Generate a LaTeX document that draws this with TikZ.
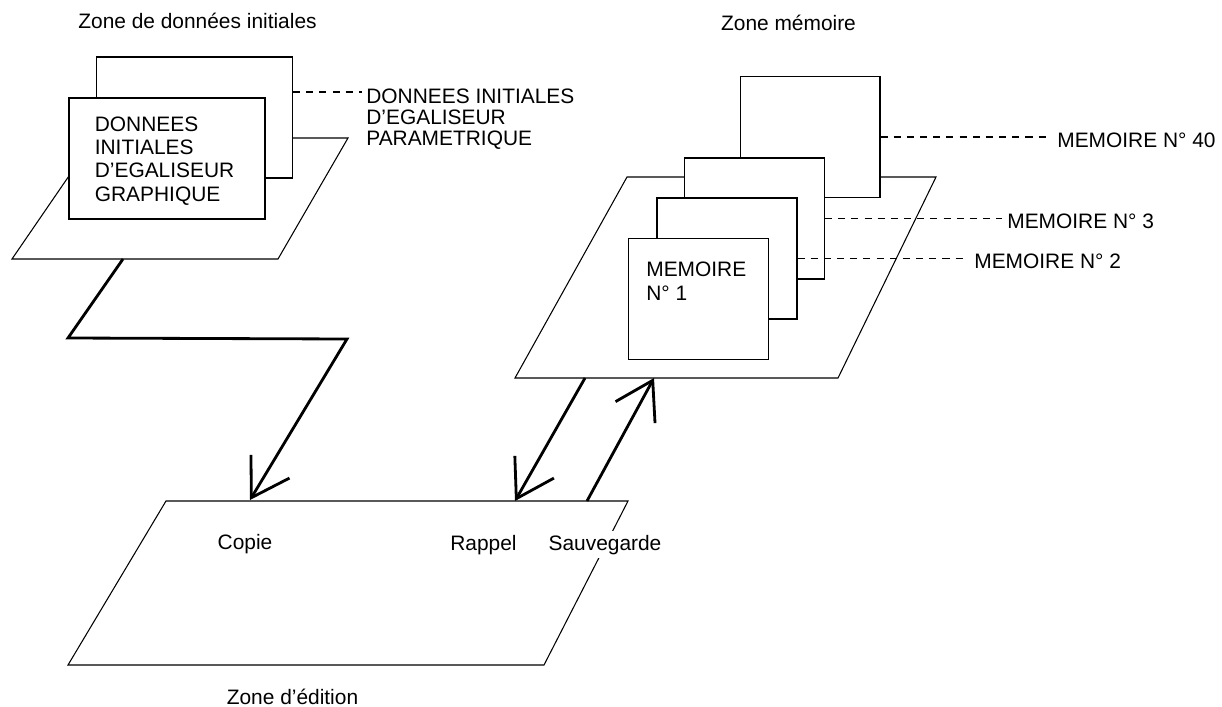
\documentclass[tikz,border=0pt]{standalone}
\usepackage{fontspec}
\setmainfont{Liberation Sans}
\usetikzlibrary{arrows.meta, positioning}
\tikzset{
  sheet/.style={rectangle, draw=black, fill=white, line width=0.6pt, inner sep=0pt},
  asheet/.style={sheet, minimum width=3.92cm, minimum height=2.42cm},
  msheet/.style={sheet, minimum width=2.8cm, minimum height=2.42cm},
  plane/.style={draw=black, fill=white, line width=0.6pt},
  lbl/.style={font=\fontsize{11.9}{13.2}\selectfont, inner sep=0pt, align=left},
  tight/.style={font=\fontsize{11.9}{11.7}\selectfont},
  leader/.style={line width=0.6pt, dash pattern=on 4pt off 3.5pt},
  flow/.style={-{Straight Barb[length=7.3mm, width=9mm]}, line width=1.6pt},
}
\begin{document}
\begin{tikzpicture}[x=0.02cm, y=-0.02cm]
  \useasboundingbox (0,0) rectangle (1222,706);
  % titres
  \node[lbl, anchor=base] (ti) at (197.5,28.5) {Zone de données initiales};
  \node[lbl, anchor=base] (tm) at (788.5,31) {Zone mémoire};
  \node[lbl, anchor=base] (te) at (292.5,704) {Zone d’édition};
  % plans
  \draw[plane] (95,138) -- (348,138) -- (278,259) -- (12,259) -- cycle;
  \draw[plane] (627,177) -- (936,177) -- (838,378) -- (515,378) -- cycle;
  \draw[plane] (166,501) -- (628,501) -- (544,665) -- (68,665) -- cycle;
  % donnees initiales
  \node[asheet] (pb) at (194.5,117.5) {};
  \node[asheet] (ga) at (167,158.5) {};
  \node[lbl, below right=0.38cm and 0.52cm of ga.north west] (gat) {DONNEES\\INITIALES\\D’EGALISEUR\\GRAPHIQUE};
  \node[lbl, tight, anchor=north west] (pbl) at (366,89) {DONNEES INITIALES\\D’EGALISEUR\\PARAMETRIQUE};
  \coordinate (pbtap) at ([yshift=0.51cm]pb.east);
  \draw[leader, shorten >=2pt] (pbtap) -- (pbtap -| pbl.west);
  % memoires
  \node[msheet] (m40) at (810,137) {};
  \node[msheet] (m3) at (754.5,218.5) {};
  \node[msheet] (m2) at (727,258.5) {};
  \node[msheet] (m1) at (698.5,299) {};
  \node[lbl, below right=0.48cm and 0.36cm of m1.north west] (m1t) {MEMOIRE\\N° 1};
  \node[lbl, anchor=base west] (l40) at (1057,147) {MEMOIRE N° 40};
  \node[lbl, anchor=base west] (l3) at (1007,228) {MEMOIRE N° 3};
  \node[lbl, anchor=base west] (l2) at (974,268) {MEMOIRE N° 2};
  \draw[leader, shorten >=5.7pt] (m40.east) -- (m40.east -| l40.west);
  \draw[leader, shorten >=2.8pt] (m3.east) -- (m3.east -| l3.west);
  \draw[leader, shorten >=6pt] (m2.east) -- (m2.east -| l2.west);
  % zone d'edition
  \node[lbl, anchor=base] (cp) at (245,549) {Copie};
  \node[lbl, anchor=base] (rp) at (483.5,550) {Rappel};
  \node[lbl, anchor=base, fill=white, inner sep=2pt] (sv) at (605,550) {Sauvegarde};
  % liaisons
  \coordinate (cpOut) at (123,259);
  \coordinate (cpIn) at (250,500);
  \coordinate (rpOut) at (585,378);
  \coordinate (rpIn) at (515,501);
  \coordinate (svOut) at (587,501);
  \coordinate (svIn) at (654,378);
  \draw[flow] (cpOut) -- ++(-55,79) -- ++(279,1) -- (cpIn);
  \draw[flow] (rpOut) -- (rpIn);
  \draw[flow] (svOut) -- (svIn);
\end{tikzpicture}
\end{document}
